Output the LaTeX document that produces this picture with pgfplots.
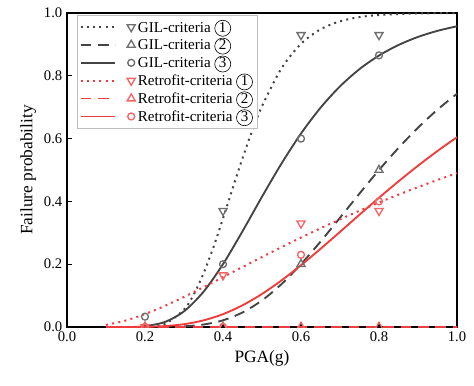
\documentclass[border=0pt]{standalone}
\usepackage{fontspec}
\setmainfont{Liberation Serif}
\usepackage{pgfplots}
\pgfplotsset{compat=1.18}
\definecolor{gildark}{RGB}{68,68,68}
\definecolor{gilmark}{RGB}{110,110,110}
\definecolor{retline}{RGB}{240,60,60}
\definecolor{retmark}{RGB}{245,100,100}
\tikzset{
  mydot/.style={line width=1.5pt, line cap=butt, dash pattern=on 1.5pt off 3.2pt},
  mydash/.style={line width=1.4pt, dash pattern=on 8pt off 5pt},
  mysolid/.style={line width=1.4pt, solid},
}
\newcommand{\cn}[1]{\tikz[baseline=(c.base)]\node[draw, solid, circle, inner sep=0pt, line width=0.45pt, minimum size=12pt, font=\fontsize{11.3}{12}\selectfont](c){#1};}
\begin{document}
\begin{tikzpicture}
\begin{axis}[
  name=ax,
  scale only axis,
  width=292.5pt, height=235.5pt,
  xmin=0, xmax=1, ymin=0, ymax=1,
  xtick={0,0.2,0.4,0.6,0.8,1.0},
  ytick={0,0.2,0.4,0.6,0.8,1.0},
  xticklabel style={/pgf/number format/.cd, fixed, fixed zerofill, precision=1},
  yticklabel style={/pgf/number format/.cd, fixed, fixed zerofill, precision=1},
  /pgf/number format/assume math mode=true,
  tick label style={font=\fontsize{11}{12}\selectfont},
  label style={font=\fontsize{13}{14}\selectfont},
  xlabel={PGA(g)},
  ylabel={Failure probability},
  ylabel style={yshift=-1pt},
  tick align=inside,
  tick pos=left,
  major tick length=4pt,
  axis line style={line width=1pt},
  every tick/.style={line width=0.8pt, black},
  clip marker paths=true,
  legend cell align=left,
  legend style={at={(0.026,0.994)}, anchor=north west, draw=gray!50, line width=0.6pt,
    font=\fontsize{11.3}{13}\selectfont, inner sep=1.5pt, row sep=-1.2pt},
  legend image code/.code={
    \draw[#1,mark=none] (0pt,0pt) -- (26pt,0pt);
    \path[#1] plot coordinates {(38pt,0pt)};
  },
]
% legend entries
\addlegendimage{gildark, mydot, mark=triangle, mark options={solid, gilmark, rotate=180, line width=1pt, mark size=3.5pt, fill=white}}
\addlegendentry{GIL-criteria \cn{1}}
\addlegendimage{gildark, mydash, mark=triangle, mark options={solid, gilmark, line width=1pt, mark size=3.5pt, fill=white}}
\addlegendentry{GIL-criteria \cn{2}}
\addlegendimage{gildark, mysolid, mark=o, mark options={solid, gilmark, line width=1pt, mark size=2.6pt}}
\addlegendentry{GIL-criteria \cn{3}}
\addlegendimage{retline, mydot, mark=triangle, mark options={solid, retmark, rotate=180, line width=1pt, mark size=3.5pt, fill=white}}
\addlegendentry{Retrofit-criteria \cn{1}}
\addlegendimage{retline, mydash, mark=triangle, mark options={solid, retmark, line width=1pt, mark size=3.5pt, fill=white}}
\addlegendentry{Retrofit-criteria \cn{2}}
\addlegendimage{retline, mysolid, mark=o, mark options={solid, retmark, line width=1pt, mark size=2.6pt}}
\addlegendentry{Retrofit-criteria \cn{3}}

% GIL curves
\addplot[gildark, mydot, smooth, forget plot] coordinates {
(0.20,0.0005) (0.25,0.0093) (0.30,0.0553) (0.325,0.1035) (0.35,0.1703) (0.375,0.2527)
(0.40,0.3457) (0.425,0.4424) (0.45,0.5374) (0.475,0.6252) (0.50,0.703) (0.55,0.8238)
(0.60,0.9019) (0.65,0.948) (0.70,0.9735) (0.75,0.9869) (0.80,0.9936) (0.90,0.9986) (1.00,0.9997)};
\addplot[gildark, mydash, smooth, forget plot] coordinates {
(0.30,0.0021) (0.35,0.0078) (0.40,0.0213) (0.45,0.0463) (0.50,0.0847) (0.55,0.1366)
(0.60,0.2001) (0.65,0.2719) (0.70,0.3480) (0.75,0.4250) (0.80,0.5) (0.85,0.5703)
(0.90,0.6347) (0.95,0.6923) (1.00,0.7429)};
\addplot[gildark, mysolid, smooth, forget plot] coordinates {
(0.20,0.0027) (0.25,0.0155) (0.30,0.0499) (0.35,0.1122) (0.40,0.2002) (0.45,0.3048)
(0.50,0.4149) (0.55,0.5205) (0.60,0.6161) (0.65,0.6982) (0.70,0.7664) (0.75,0.8213)
(0.80,0.8646) (0.85,0.8981) (0.90,0.9238) (0.95,0.9432) (1.00,0.9578)};

% Retrofit curves
\addplot[retline, mydot, smooth, forget plot] coordinates {
(0.10,0.0067) (0.15,0.0205) (0.20,0.0412) (0.25,0.0668) (0.30,0.0958) (0.35,0.1267)
(0.40,0.1587) (0.45,0.1909) (0.50,0.2228) (0.55,0.2543) (0.60,0.2848) (0.65,0.3144)
(0.70,0.3428) (0.75,0.3703) (0.80,0.3964) (0.85,0.4215) (0.90,0.4455) (0.95,0.4682) (1.00,0.4899)};
\addplot[retline, mydash, forget plot] coordinates {(0.10,0) (1.00,0)};
\addplot[retline, mysolid, smooth, forget plot] coordinates {
(0.10,0.0) (0.15,0.0001) (0.20,0.0006) (0.25,0.0028) (0.30,0.0089) (0.35,0.0211)
(0.40,0.0409) (0.45,0.0691) (0.50,0.1053) (0.55,0.1484) (0.60,0.1968) (0.65,0.2489)
(0.70,0.3030) (0.75,0.3576) (0.80,0.4116) (0.85,0.4638) (0.90,0.5136) (0.95,0.5606) (1.00,0.6044)};

% markers
\addplot[only marks, mark=triangle, mark options={gilmark, rotate=180, line width=1pt, mark size=3.5pt, fill=white}, forget plot] coordinates {
(0.2,0) (0.4,0.37) (0.6,0.93) (0.8,0.93)};
\addplot[only marks, mark=triangle, mark options={gilmark, line width=1pt, mark size=3.5pt, fill=white}, forget plot] coordinates {
(0.2,0) (0.4,0) (0.6,0.2) (0.8,0.5)};
\addplot[only marks, mark=o, mark options={gilmark, line width=1pt, mark size=2.6pt}, forget plot] coordinates {
(0.2,0.033) (0.4,0.2) (0.6,0.6) (0.8,0.865)};
\addplot[only marks, mark=triangle, mark options={retmark, rotate=180, line width=1pt, mark size=3.5pt, fill=white}, forget plot] coordinates {
(0.2,0) (0.4,0.165) (0.6,0.33) (0.8,0.37)};
\addplot[only marks, mark=triangle, mark options={retmark, line width=1pt, mark size=3.5pt}, forget plot] coordinates {
(0.2,0) (0.4,0) (0.6,0) (0.8,0)};
\addplot[only marks, mark=o, mark options={retmark, line width=1pt, mark size=2.6pt}, forget plot] coordinates {
(0.2,0) (0.4,0) (0.6,0.23) (0.8,0.40)};
\end{axis}
\path (ax.south west) ++(-50.25pt,-43.5pt) coordinate (bl);
\path (ax.north east) ++(12.75pt,9.75pt) coordinate (tr);
\path (bl) rectangle (tr);
\end{tikzpicture}
\end{document}
